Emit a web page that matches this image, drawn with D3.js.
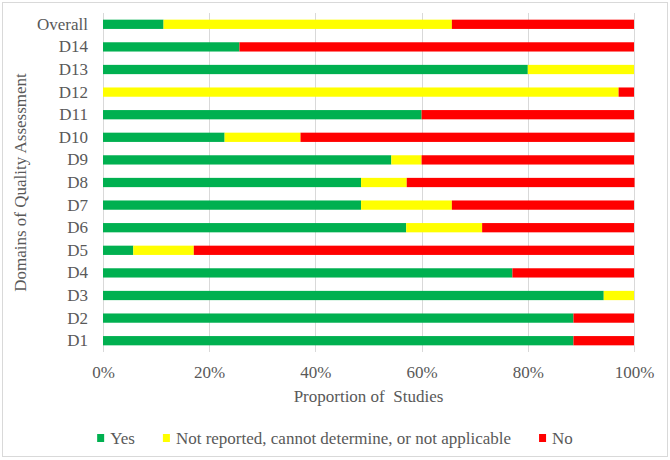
<!DOCTYPE html>
<html>
  <head>
    <meta charset="UTF-8">
    <title>Domains of Quality Assessment</title>
    <script src="https://d3js.org/d3.v7.min.js"></script>
    <style type="text/css">
      body { margin: 0px; padding: 0px; background: #fff; }
      text { font-family: "Liberation Serif", "Times New Roman", serif; fill: #595959; }
    </style>
  </head>
  <body>
    <div id="chart"></div>
    <script>
      // categories, top to bottom
      const domains = ["Overall", "D14", "D13", "D12", "D11", "D10", "D9", "D8", "D7", "D6", "D5", "D4", "D3", "D2", "D1"];
      // proportion of studies (%)
      const yes         = [11.4, 25.7, 80.0,  0.0, 60.0, 22.9, 54.3, 48.6, 48.6, 57.1,  5.7, 77.1, 94.3, 88.6, 88.6];
      const notReported = [54.3,  0.0, 20.0, 97.1,  0.0, 14.3,  5.7,  8.6, 17.1, 14.3, 11.4,  0.0,  5.7,  0.0,  0.0];
      const no          = [34.3, 74.3,  0.0,  2.9, 40.0, 62.9, 40.0, 42.9, 34.3, 28.6, 82.9, 22.9,  0.0, 11.4, 11.4];
      const seriesNames = ["Yes", "Not reported, cannot determine, or not applicable", "No"];
      const seriesColors = ["#00B050", "#FFFF00", "#FF0000"];
      const tickValues = [0, 20, 40, 60, 80, 100];

      const width = 670, height = 460;
      const plot = { left: 103, right: 634, top: 13, bottom: 352 };

      const svg = d3.select("#chart").append("svg")
        .attr("width", width)
        .attr("height", height);

      // outer frame
      svg.append("rect")
        .attr("x", 2.5).attr("y", 2.5)
        .attr("width", 665).attr("height", 454)
        .attr("fill", "#fff")
        .attr("stroke", "#D9D9D9");

      const x = d3.scaleLinear().domain([0, 100]).range([plot.left, plot.right]);
      const y = d3.scaleBand().domain(domains).range([plot.top, plot.bottom]).padding(0);
      const barH = y.bandwidth() * 0.41;

      // gridlines
      svg.append("g").selectAll("line")
        .data(tickValues).enter().append("line")
        .attr("x1", d => Math.round(x(d)) + 0.5)
        .attr("x2", d => Math.round(x(d)) + 0.5)
        .attr("y1", plot.top)
        .attr("y2", plot.bottom)
        .attr("stroke", "#D9D9D9")
        .attr("stroke-width", 1);

      const table = domains.map((d, i) => ({ domain: d, yes: yes[i], notReported: notReported[i], no: no[i] }));
      const stack = d3.stack().keys(["yes", "notReported", "no"]);
      const layers = stack(table);

      svg.append("g").selectAll("g")
        .data(layers).enter().append("g")
        .attr("fill", (d, i) => seriesColors[i])
        .selectAll("rect")
        .data(d => d).enter().append("rect")
        .attr("x", d => x(d[0]))
        .attr("width", d => Math.max(0, x(d[1]) - x(d[0])))
        .attr("y", d => y(d.data.domain) + (y.bandwidth() - barH) / 2)
        .attr("height", barH);

      // x axis labels
      const xAxis = svg.append("g")
        .attr("transform", `translate(0, ${plot.bottom})`)
        .call(d3.axisBottom(x).tickValues(tickValues).tickFormat(d => d + "%").tickSize(0).tickPadding(20));
      xAxis.select(".domain").remove();
      xAxis.selectAll("text")
        .attr("font-family", null)
        .style("font-size", "17px")
        .attr("dy", null)
        .attr("y", 26);

      // y axis labels
      const yAxis = svg.append("g")
        .attr("transform", `translate(${plot.left}, 0)`)
        .call(d3.axisLeft(y).tickSize(0).tickPadding(15));
      yAxis.select(".domain").remove();
      yAxis.selectAll("text")
        .attr("font-family", null)
        .style("font-size", "17px");

      // axis titles
      svg.append("text")
        .attr("x", (plot.left + plot.right) / 2)
        .attr("y", 402)
        .attr("text-anchor", "middle")
        .style("font-size", "17px")
        .style("white-space", "pre")
        .text("Proportion of  Studies");

      svg.append("text")
        .attr("transform", `translate(26, ${(plot.top + plot.bottom) / 2}) rotate(-90)`)
        .attr("text-anchor", "middle")
        .style("font-size", "17px")
        .text("Domains of Quality Assessment");

      // legend
      const legend = svg.append("g");
      const items = legend.selectAll("g")
        .data(seriesNames).enter().append("g");
      items.append("rect")
        .attr("width", 7).attr("height", 8)
        .attr("y", 434)
        .attr("fill", (d, i) => seriesColors[i]);
      items.append("text")
        .attr("x", 13)
        .attr("y", 443.5)
        .style("font-size", "17px")
        .text(d => d);
      let cx = 0;
      const gap = 28;
      items.each(function() {
        const w = 13 + d3.select(this).select("text").node().getComputedTextLength();
        d3.select(this).attr("transform", `translate(${cx}, 0)`);
        cx += w + gap;
      });
      const total = cx - gap;
      legend.attr("transform", `translate(${335 - total / 2}, 0)`);
    </script>
  </body>
</html>
